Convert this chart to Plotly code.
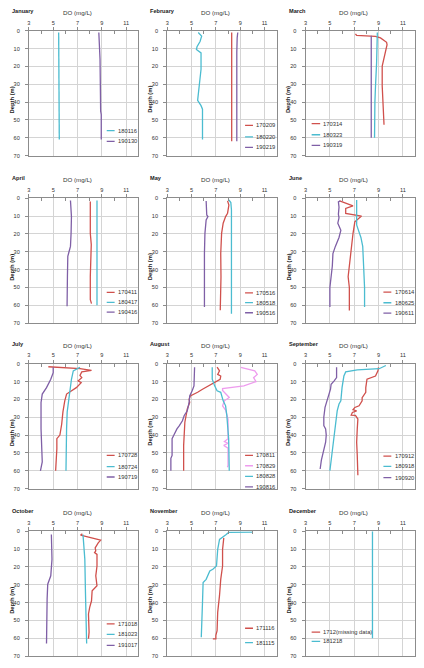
import plotly.graph_objects as go

# ---------------- labels ----------------
MONTHS = ["January", "February", "March", "April", "May", "June",
          "July", "August", "September", "October", "November", "December"]
X_TICKS = [3, 5, 7, 9, 11]
Y_TICKS = [0, 10, 20, 30, 40, 50, 60, 70]
X_TITLE = "DO (mg/L)"
Y_TITLE = "Depth (m)"

# ---------------- data (DO in mg/L, depth in m) ----------------
JAN_180116_DO = [5.45, 5.45, 5.5, 5.45, 5.5]
JAN_180116_DEPTH = [1, 15, 30, 50, 61]
JAN_190130_DO = [8.75, 8.8, 8.8, 8.85, 8.9, 8.95, 8.95]
JAN_190130_DEPTH = [1, 8, 15, 16, 45, 47, 61]

FEB_170209_DO = [8.3, 8.3, 8.3, 8.3]
FEB_170209_DEPTH = [1, 20, 45, 62]
FEB_180220_DO = [5.55, 5.83, 5.7, 5.45, 5.4, 5.78, 5.78, 5.64, 5.5, 5.78, 5.9, 5.9]
FEB_180220_DEPTH = [1, 3, 6, 9, 10.5, 12.4, 21.6, 32.7, 39, 42, 44, 61]
FEB_190219_DO = [8.8, 8.75, 8.72, 8.72]
FEB_190219_DEPTH = [1, 4, 12, 62]

MAR_170314_DO = [7.1, 7.2, 8.35, 8.75, 9.16, 9.66, 9.7, 9.6, 9.45, 9.3, 9.3, 9.38, 9.45, 9.45]
MAR_170314_DEPTH = [1.7, 2.6, 3.0, 3.1, 4, 6.5, 7.8, 10.5, 14.2, 19.8, 30.9, 40, 47.5, 52.7]
MAR_180323_DO = [8.9, 8.9, 8.84, 8.75, 8.7, 8.67]
MAR_180323_DEPTH = [1, 8.7, 18, 31, 40, 60]
MAR_190319_DO = [8.4, 8.4]
MAR_190319_DEPTH = [2.8, 60]

APR_170411_DO = [8.05, 8.05, 8.13, 8.08, 8.05, 8.05, 8.15]
APR_170411_DEPTH = [1.9, 19.6, 26, 32.6, 43.8, 56.9, 59.1]
APR_180417_DO = [8.6, 8.6]
APR_180417_DEPTH = [1.3, 60]
APR_190416_DO = [6.42, 6.5, 6.47, 6.42, 6.3, 6.2, 6.17, 6.14]
APR_190416_DEPTH = [1.3, 10.3, 19.6, 27, 30, 32.6, 43.8, 60.6]

MAY_170516_DO = [7.96, 8.07, 7.96, 7.8, 7.6, 7.47, 7.4, 7.42, 7.36]
MAY_170516_DEPTH = [1.5, 3.8, 8.4, 10.3, 14, 19.7, 31, 44, 62.8]
MAY_180518_DO = [8.07, 8.23, 8.28, 8.28]
MAY_180518_DEPTH = [1, 2.4, 6.6, 64.7]
MAY_190516_DO = [6.2, 6.25, 6.25, 6.35, 6.2, 6.1, 6.06, 6.06]
MAY_190516_DEPTH = [1.5, 6.6, 9.4, 10.3, 12.2, 19.7, 31, 61]

JUN_170614_DO = [5.8, 6.0, 6.9, 6.3, 6.3, 7.6, 7.05, 6.9, 6.75, 6.6, 6.5, 6.6, 6.6]
JUN_170614_DEPTH = [1.5, 2, 4.3, 5.7, 8.5, 10, 13.2, 19.8, 29, 40.6, 44, 50, 63]
JUN_180625_DO = [7.2, 7.2, 7.35, 7.55, 7.7, 7.8, 7.85, 7.85]
JUN_180625_DEPTH = [1, 15, 18, 22, 27, 40, 50, 61]
JUN_190611_DO = [5.85, 5.7, 5.75, 5.7, 5.75, 5.65, 5.9, 5.75, 5.45, 5.25, 5.2, 5.1, 5.0, 5.0]
JUN_190611_DEPTH = [1.5, 2, 5, 9, 11, 14, 18, 22, 27, 31, 38, 43, 50, 61]

JUL_170728_DO = [4.6, 7.2, 8.15, 7.35, 7.2, 7.35, 7.05, 7.3, 6.9, 6.35, 6.1, 5.95, 5.8, 5.7, 5.55, 5.3, 5.3, 5.2]
JUL_170728_DEPTH = [1.7, 2.8, 3.7, 4.6, 6.5, 7.8, 9.6, 10.6, 13.4, 15.8, 17, 20.8, 27, 33.8, 40, 42, 47.7, 60]
JUL_180724_DO = [7.2, 6.65, 6.5, 6.35, 6.15, 6.1, 6.05]
JUL_180724_DEPTH = [2, 4, 8.7, 16, 27, 36.5, 60]
JUL_190719_DO = [5.0, 5.0, 4.8, 4.45, 4.1, 4.0, 4.0, 4.1, 3.95]
JUL_190719_DEPTH = [2, 5, 8.7, 13.4, 17, 21.7, 36.5, 55, 60]

AUG_170811_DO = [7.1, 7.3, 7.15, 7.4, 7.35, 7.1, 6.45, 5.9, 5.5, 4.9, 4.8, 4.85, 4.65, 4.45, 4.35, 4.35]
AUG_170811_DEPTH = [1.9, 4, 6, 6.9, 8.7, 9.6, 12, 14.3, 16, 18, 20, 21.7, 25.4, 32.8, 45.8, 60]
AUG_170829_DO = [9.05, 9.6, 10.2, 10.4, 10.1, 10.3, 9.3, 7.55, 7.55, 8.1, 7.7, 7.55, 7.8, 8.0,
                 8.0, 7.7, 8.0, 7.65, 8.0, 8.0, 7.95]
AUG_170829_DEPTH = [2, 3, 4, 6, 7.8, 10, 12.4, 13.9, 15, 18.9, 20.8, 23.6, 26, 31,
                    42, 43.6, 44.6, 45.8, 47.3, 57, 58]
AUG_180828_DO = [6.7, 6.7, 6.9, 7.1, 7.4, 7.6, 7.8, 7.9, 8.05, 8.1]
AUG_180828_DEPTH = [2, 8.7, 12.4, 15.2, 16, 20.8, 23.6, 29, 42, 60]
AUG_190816_DO = [5.25, 5.25, 5.2, 5.05, 4.85, 4.8, 4.65, 4.4, 4.25, 4.0, 3.8, 3.55, 3.4, 3.4, 3.3, 3.3]
AUG_190816_DEPTH = [2, 8.7, 12.4, 15.2, 18, 21.7, 26.4, 29, 32, 34.7, 36.5, 40, 42, 51.4, 53, 60]

SEP_170912_DO = [9.0, 8.95, 8.75, 8.05, 7.95, 7.95, 7.65, 7.65, 7.4, 7.05, 6.9, 7.2, 6.85, 6.75,
                 7.1, 7.3, 7.25, 7.2, 7.25, 7.3]
SEP_170912_DEPTH = [2, 4, 6.9, 8.7, 13.4, 16, 19, 20.8, 23.6, 24.5, 25.8, 26.4, 27.3, 28.8,
                    29, 31, 36.5, 44, 51.4, 62.5]
SEP_180918_DO = [9.6, 9.3, 9.05, 7.25, 6.3, 6.15, 6.0, 5.9, 5.75, 5.6, 5.45, 5.3, 5.15, 5.0]
SEP_180918_DEPTH = [1, 2, 2.8, 3.5, 4.6, 6.9, 13.4, 20.8, 22.6, 26.4, 34.7, 42, 49.5, 60]
SEP_190920_DO = [5.55, 5.55, 5.35, 5.1, 5.05, 4.9, 4.8, 4.6, 4.5, 4.5, 4.65, 4.7, 4.65, 4.45, 4.3, 4.2]
SEP_190920_DEPTH = [2, 7.8, 9.6, 11.5, 14.3, 18, 20.8, 24.5, 30, 34.7, 36.5, 40, 44, 49.5, 54, 59]

OCT_171018_DO = [7.4, 7.25, 7.5, 8.9, 8.7, 8.45, 8.5, 8.4, 8.6, 8.6, 8.5, 8.6, 8.2, 8.15, 8.0, 7.9, 7.95, 7.9]
OCT_171018_DEPTH = [1.5, 2.2, 2.6, 5, 6.5, 9.3, 11, 12, 13, 19.5, 25, 30.6, 33.4, 39, 42.7, 46.4, 56.6, 60.3]
OCT_181023_DO = [7.45, 7.6, 7.65, 7.75]
OCT_181023_DEPTH = [1.9, 15.8, 34, 63]
OCT_191017_DO = [4.85, 4.9, 4.8, 4.55, 4.5, 4.45, 4.45]
OCT_191017_DEPTH = [1.9, 15.8, 25, 29.7, 38, 52.9, 63]

NOV_171116_DO = [7.65, 7.55, 7.55, 7.4, 7.3, 7.15, 7.1, 7.0, 7.0, 6.75]
NOV_171116_DEPTH = [3.7, 10.2, 19.5, 27, 36, 45.5, 55.7, 58.4, 60.3, 60.3]
NOV_181115_DO = [10.0, 8.05, 7.85, 7.65, 7.3, 7.15, 7.05, 6.75, 6.5, 6.2, 5.95, 5.9, 5.8]
NOV_181115_DEPTH = [0.5, 0.7, 1.9, 2.8, 4.6, 10.2, 19.5, 21.3, 22.3, 27, 28.8, 40, 59.4]

DEC_1712_DO = []
DEC_1712_DEPTH = []
DEC_181218_DO = [8.5, 8.5]
DEC_181218_DEPTH = [0, 60]

SERIES = [
    [("180116", JAN_180116_DO, JAN_180116_DEPTH), ("190130", JAN_190130_DO, JAN_190130_DEPTH)],
    [("170209", FEB_170209_DO, FEB_170209_DEPTH), ("180220", FEB_180220_DO, FEB_180220_DEPTH),
     ("190219", FEB_190219_DO, FEB_190219_DEPTH)],
    [("170314", MAR_170314_DO, MAR_170314_DEPTH), ("180323", MAR_180323_DO, MAR_180323_DEPTH),
     ("190319", MAR_190319_DO, MAR_190319_DEPTH)],
    [("170411", APR_170411_DO, APR_170411_DEPTH), ("180417", APR_180417_DO, APR_180417_DEPTH),
     ("190416", APR_190416_DO, APR_190416_DEPTH)],
    [("170516", MAY_170516_DO, MAY_170516_DEPTH), ("180518", MAY_180518_DO, MAY_180518_DEPTH),
     ("190516", MAY_190516_DO, MAY_190516_DEPTH)],
    [("170614", JUN_170614_DO, JUN_170614_DEPTH), ("180625", JUN_180625_DO, JUN_180625_DEPTH),
     ("190611", JUN_190611_DO, JUN_190611_DEPTH)],
    [("170728", JUL_170728_DO, JUL_170728_DEPTH), ("180724", JUL_180724_DO, JUL_180724_DEPTH),
     ("190719", JUL_190719_DO, JUL_190719_DEPTH)],
    [("170811", AUG_170811_DO, AUG_170811_DEPTH), ("170829", AUG_170829_DO, AUG_170829_DEPTH),
     ("180828", AUG_180828_DO, AUG_180828_DEPTH), ("190816", AUG_190816_DO, AUG_190816_DEPTH)],
    [("170912", SEP_170912_DO, SEP_170912_DEPTH), ("180918", SEP_180918_DO, SEP_180918_DEPTH),
     ("190920", SEP_190920_DO, SEP_190920_DEPTH)],
    [("171018", OCT_171018_DO, OCT_171018_DEPTH), ("181023", OCT_181023_DO, OCT_181023_DEPTH),
     ("191017", OCT_191017_DO, OCT_191017_DEPTH)],
    [("171116", NOV_171116_DO, NOV_171116_DEPTH), ("181115", NOV_181115_DO, NOV_181115_DEPTH)],
    [("1712(missing data)", DEC_1712_DO, DEC_1712_DEPTH), ("181218", DEC_181218_DO, DEC_181218_DEPTH)],
]

# ---------------- styles / layout ----------------
RED = "#d0504c"
CYAN = "#4bbcd0"
PURPLE = "#7f5fa6"
PINK = "#ee9cee"
SPECIAL = {"170829": PINK}


def color_for(label):
    if label in SPECIAL:
        return SPECIAL[label]
    return {"17": RED, "18": CYAN, "19": PURPLE}[label[:2]]


W, H = 424, 668
COL_LEFT = [27, 166, 305]
PW = 110
ROW_TOP = [28, 197, 364, 533]
PH = 126

# legend placement per panel: row depths (axis units)
LEGEND_ROWS = [
    [56, 62],
    [53, 59.5, 65.4],
    [52.1, 58.3, 64.3],
    [52.8, 58.4, 63.8],
    [53.1, 58.5, 64.2],
    [52.6, 58.6, 64.4],
    [51.4, 57.7, 63.5],
    [51.4, 57.2, 63.1, 69],
    [51.8, 57.5, 63.8],
    [52, 57.8, 64],
    [54.4, 62.5],
    [56.6, 61.8],
]
LEGEND_LEFT = {2, 11}

FONT = "Liberation Sans, Arial, sans-serif"
TXT = "#333333"
GRID = "#d4d4d4"
AXIS = "#8c8c8c"

fig = go.Figure()
shapes = []
annotations = []
layout_axes = {}


def px(x):
    return x / W


def py(y):
    return 1 - y / H


for i, (month, series) in enumerate(zip(MONTHS, SERIES)):
    r, c = divmod(i, 3)
    n = i + 1
    xa = "x" if n == 1 else f"x{n}"
    ya = "y" if n == 1 else f"y{n}"
    xkey = "xaxis" if n == 1 else f"xaxis{n}"
    ykey = "yaxis" if n == 1 else f"yaxis{n}"
    x0p, x1p = COL_LEFT[c], COL_LEFT[c] + PW
    y0p, y1p = ROW_TOP[r], ROW_TOP[r] + PH

    layout_axes[xkey] = dict(
        domain=[px(x0p), px(x1p)], anchor=ya, side="top",
        range=[3, 12], tickmode="array", tickvals=X_TICKS,
        ticktext=[str(v) for v in X_TICKS],
        showgrid=True, gridcolor=GRID, gridwidth=1,
        showline=True, linecolor=AXIS, linewidth=1, mirror=True,
        ticks="outside", ticklen=3, tickcolor=AXIS,
        minor=dict(tickvals=[4, 6, 8, 10], ticks="inside", ticklen=3, tickcolor=AXIS, showgrid=False),
        tickfont=dict(family=FONT, size=5.6, color=TXT),
        zeroline=False, fixedrange=True,
    )
    layout_axes[ykey] = dict(
        domain=[py(y1p), py(y0p)], anchor=xa,
        range=[70, 0], tickmode="array", tickvals=Y_TICKS,
        ticktext=[str(v) for v in Y_TICKS],
        showgrid=True, gridcolor=GRID, gridwidth=1,
        showline=True, linecolor=AXIS, linewidth=1, mirror=True,
        ticks="outside", ticklen=3, tickcolor=AXIS,
        ticklabelstandoff=4,
        tickfont=dict(family=FONT, size=5.6, color=TXT),
        zeroline=False, fixedrange=True,
    )

    for label, do_vals, depth_vals in series:
        fig.add_trace(go.Scatter(
            x=do_vals, y=depth_vals, mode="lines", name=label,
            line=dict(color=color_for(label), width=1.3),
            xaxis=xa, yaxis=ya, showlegend=False, hoverinfo="x+y+name",
        ))

    # compact in-plot legend
    if i in LEGEND_LEFT:
        lx0, lx1, ltx = 3.5, 4.2, 4.3
    else:
        lx0, lx1, ltx = 9.4, 10.05, 10.15
    for (label, _, _), d in zip(series, LEGEND_ROWS[i]):
        shapes.append(dict(type="line", xref=xa, yref=ya, x0=lx0, x1=lx1, y0=d, y1=d,
                           line=dict(color=color_for(label), width=1.3)))
        annotations.append(dict(xref=xa, yref=ya, x=ltx, y=d, text=label, showarrow=False,
                                xanchor="left", yanchor="middle",
                                font=dict(family=FONT, size=5.8, color=TXT)))

    # month title
    annotations.append(dict(xref="paper", yref="paper", x=px(x0p - 19), y=py(y0p - 20),
                            text=f"<b>{month}</b>", showarrow=False, xanchor="left", yanchor="middle",
                            font=dict(family=FONT, size=5.6, color="#222222")))
    # x title
    annotations.append(dict(xref="paper", yref="paper", x=px(x0p + 48.5), y=py(y0p - 18.5),
                            text=X_TITLE, showarrow=False, xanchor="center", yanchor="middle",
                            font=dict(family=FONT, size=6.2, color=TXT)))
    # y title
    annotations.append(dict(xref="paper", yref="paper", x=px(x0p - 17), y=py(y0p + PH * 0.55),
                            text=f"<b>{Y_TITLE}</b>", showarrow=False, textangle=-90,
                            xanchor="center", yanchor="middle",
                            font=dict(family=FONT, size=5.8, color="#222222")))

fig.update_layout(
    width=W, height=H,
    margin=dict(l=0, r=0, t=0, b=0),
    paper_bgcolor="white", plot_bgcolor="white",
    showlegend=False, hovermode=False,
    shapes=shapes, annotations=annotations,
    **layout_axes,
)

fig.write_html(
    "out.html",
    config={"displayModeBar": False, "staticPlot": True},
    post_script="document.body.style.margin='0';document.body.style.overflow='hidden';",
)
